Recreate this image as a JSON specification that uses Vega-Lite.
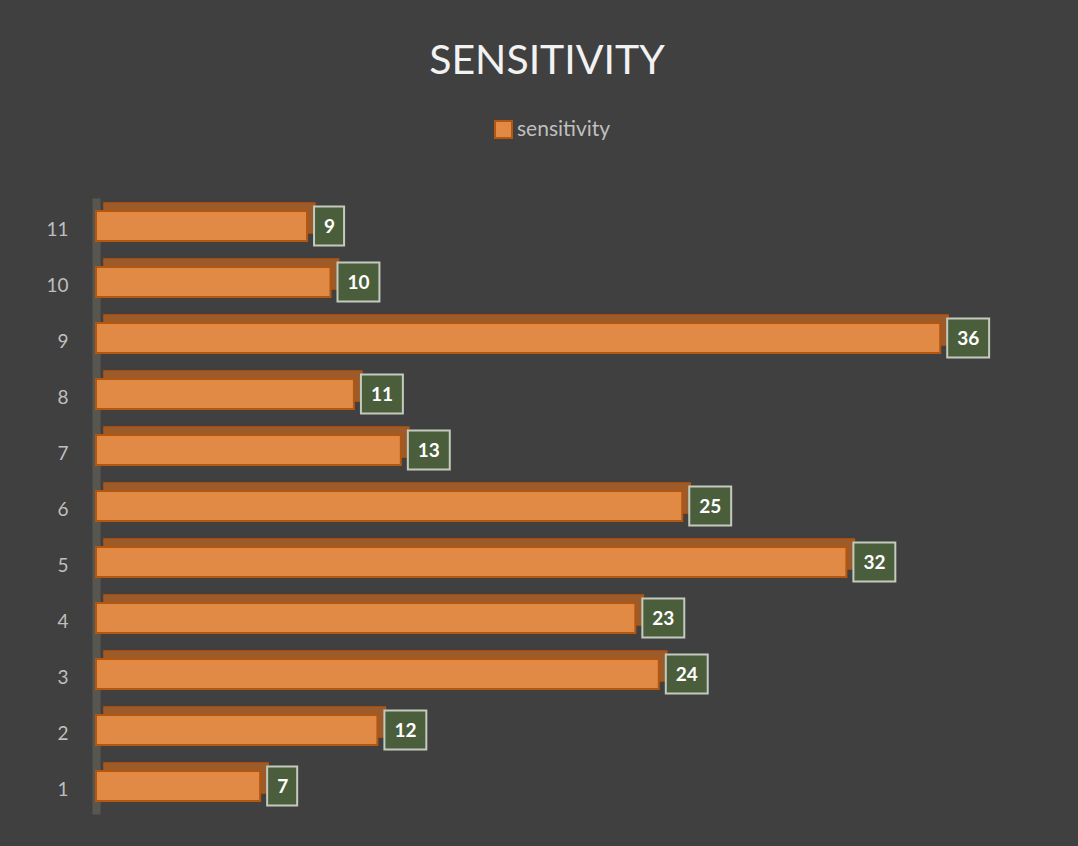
{
  "$schema": "https://vega.github.io/schema/vega-lite/v6.json",
  "autosize": {"type": "none"},
  "width": 938,
  "height": 616,
  "padding": {"left": 96, "top": 198, "right": 44, "bottom": 32},
  "background": "#404040",
  "config": {"view": {"stroke": null}, "font": "Lato"},
  "title": {"text": "SENSITIVITY", "font": "Lato", "fontSize": 41, "fontWeight": "normal", "color": "#f2f2f2", "anchor": "middle", "frame": "group", "dx": -18, "offset": 36},
  "data": {"values": [
    {"category": 1, "sensitivity": 7},
    {"category": 2, "sensitivity": 12},
    {"category": 3, "sensitivity": 24},
    {"category": 4, "sensitivity": 23},
    {"category": 5, "sensitivity": 32},
    {"category": 6, "sensitivity": 25},
    {"category": 7, "sensitivity": 13},
    {"category": 8, "sensitivity": 11},
    {"category": 9, "sensitivity": 36},
    {"category": 10, "sensitivity": 10},
    {"category": 11, "sensitivity": 9}
  ]},
  "encoding": {
    "y": {"field": "category", "type": "ordinal", "sort": "descending",
      "scale": {"paddingInner": 0.46, "paddingOuter": 0.23},
      "axis": {"title": null, "ticks": false, "labelPadding": 28, "labelOffset": 4, "labelFont": "Lato", "labelFontSize": 19, "labelColor": "#bfbfbf", "domainColor": "#57574f", "domainWidth": 8, "grid": false, "zindex": 0}},
    "x": {"field": "sensitivity", "type": "quantitative", "scale": {"domain": [0, 40]}, "axis": null}
  },
  "layer": [
    {"mark": {"type": "bar", "xOffset": 8, "yOffset": -8, "fill": "#9c5b2a", "stroke": "#b3560f", "strokeWidth": 1.5}},
    {"mark": {"type": "bar", "stroke": "#b3560f", "strokeWidth": 2},
     "encoding": {"color": {"datum": "sensitivity", "scale": {"range": ["#e08a46"]},
       "legend": {"title": null, "orient": "none", "legendX": 397, "legendY": -79, "direction": "horizontal", "symbolType": "square", "symbolSize": 289, "symbolStrokeColor": "#b3560f", "symbolStrokeWidth": 2, "labelColor": "#bfbfbf", "labelFont": "Lato", "labelFontSize": 21, "labelOffset": 3, "padding": 0}}}},
    {"mark": {"type": "point", "filled": true, "fill": "#4b5e3c", "stroke": "#c4cabd", "strokeWidth": 2, "opacity": 1, "size": 1521, "xOffset": 7},
     "encoding": {"shape": {"condition": {"test": "datum.sensitivity >= 10", "value": "M0,-1L2.15,-1L2.15,1L0,1Z"}, "value": "M0,-1L1.54,-1L1.54,1L0,1Z"}}},
    {"mark": {"type": "text", "align": "left", "baseline": "middle", "dx": 17, "dy": 1, "font": "Lato", "fontSize": 19, "fontWeight": "bold", "fill": "#ffffff"},
     "encoding": {"text": {"field": "sensitivity"}}}
  ]
}
